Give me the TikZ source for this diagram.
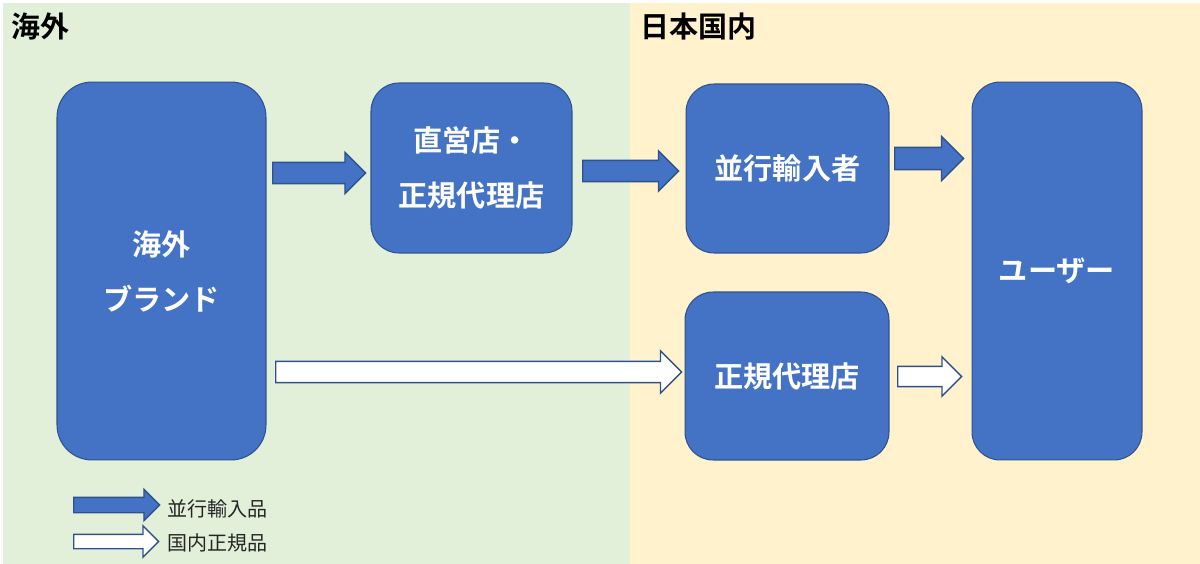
\documentclass[tikz,border=0pt]{standalone}
\usepackage{fontspec}
\usetikzlibrary{shapes.arrows}
\newfontfamily\jpb{Noto Sans CJK JP Bold}
\newfontfamily\jp{Noto Sans CJK JP}
\definecolor{bgG}{HTML}{E2F0D9}
\definecolor{bgY}{HTML}{FFF2CC}
\definecolor{boxB}{HTML}{4472C4}
\definecolor{edgeB}{HTML}{2F528F}
\tikzset{
  box/.style={draw=edgeB, line width=0.6pt, fill=boxB, text=white, align=center,
    font=\jpb\fontsize{16.6}{31.3}\selectfont, inner sep=0pt},
  hdr/.style={font=\jpb\fontsize{16.5}{18}\selectfont, text=black, anchor=west, inner sep=0pt},
  leg/.style={font=\jp\fontsize{11.4}{13}\selectfont, text=black!85, anchor=west, inner sep=0pt},
  barrow/.style={single arrow, draw=edgeB, line width=0.8pt, anchor=west,
    inner xsep=0pt, text height=0pt, text depth=0pt, minimum width=0pt},
  bluearrow/.style={barrow, fill=boxB},
  whitearrow/.style={barrow, fill=white},
}
\begin{document}
\begin{tikzpicture}[x=0.02cm, y=-0.02cm]
\useasboundingbox (0,0) rectangle (1200,564);
\fill[white] (0,0) rectangle (1200,564);
\fill[bgG] (3,3) rectangle (630,564);
\fill[bgY] (630,3) rectangle (1200,564);

\node[hdr] (h1) at (11,26) {海外};
\node[hdr] (h2) at (640,27) {日本国内};

\node[box, minimum width=4.18cm, minimum height=7.56cm, rounded corners=0.7cm] (brand) at (161.5,271) {海外\\ブランド};
\node[box, minimum width=4.02cm, minimum height=3.4cm, rounded corners=0.56cm] (direct) at (471.5,168) {直営店・\\正規代理店};
\node[box, minimum width=4.06cm, minimum height=3.38cm, rounded corners=0.56cm] (para) at (787.5,168.5) {並行輸入者};
\node[box, minimum width=4.08cm, minimum height=3.36cm, rounded corners=0.56cm] (agent) at (787,376) {正規代理店};
\node[box, minimum width=3.4cm, minimum height=7.56cm, rounded corners=0.56cm] (user) at (1057,271) {ユーザー};

\node[bluearrow, minimum height=1.86cm, inner ysep=0.2cm, single arrow head extend=0.2cm] (a1) at (272,173) {};
\node[bluearrow, minimum height=1.92cm, inner ysep=0.2cm, single arrow head extend=0.19cm] (a2) at (582,171) {};
\node[bluearrow, minimum height=1.38cm, inner ysep=0.21cm, single arrow head extend=0.22cm] (a3) at (894,158.5) {};
\node[whitearrow, minimum height=8.12cm, inner ysep=0.2cm, single arrow head extend=0.21cm] (w1) at (275,372) {};
\node[whitearrow, minimum height=1.28cm, inner ysep=0.19cm, single arrow head extend=0.19cm] (w2) at (897,376.5) {};

\node[bluearrow, minimum height=1.72cm, inner ysep=0.14cm, single arrow head extend=0.16cm] (l1) at (73,505) {};
\node[whitearrow, minimum height=1.7cm, inner ysep=0.13cm, single arrow head extend=0.17cm] (l2) at (73,541.5) {};
\node[leg] (t1) at (167,509) {並行輸入品};
\node[leg] (t2) at (167,543) {国内正規品};
\end{tikzpicture}
\end{document}
